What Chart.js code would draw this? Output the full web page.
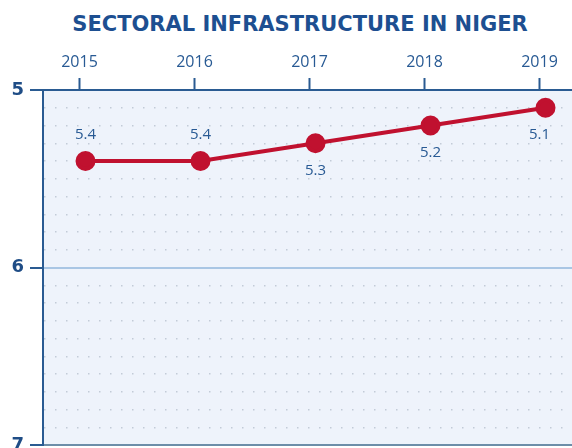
<!DOCTYPE html>
<html>
<head>
<meta charset="utf-8">
<script src="https://cdn.jsdelivr.net/npm/chart.js@4.4.0/dist/chart.umd.min.js"></script>
<style>
  html, body { margin: 0; padding: 0; background: #fff; overflow: hidden; }
  #wrap { position: relative; width: 572px; height: 448px; overflow: hidden; }
  #title {
    position: absolute; left: 0; top: 12px; width: 600px; text-align: center;
    font-family: "DejaVu Sans", sans-serif; font-weight: bold; font-size: 21px;
    color: #1d4f91;
  }
  canvas { position: absolute; left: 0; top: 0; }
</style>
</head>
<body>
<div id="wrap">
  <div id="title">SECTORAL INFRASTRUCTURE IN NIGER</div>
  <canvas id="chart" width="572" height="462"></canvas>
</div>
<script>
const years = [2015, 2016, 2017, 2018, 2019];
const values = [5.4, 5.4, 5.3, 5.2, 5.1];
const valueLabels = ["5.4", "5.4", "5.3", "5.2", "5.1"];
const labelSide = ["above", "above", "below", "below", "below"];
const yTicks = [5, 6, 7];

const darkBlue = "#2a5b92";
const textBlue = "#285a94";

function isWhole(v) {
  return Math.abs(v - Math.round(v)) < 1e-6;
}

// fond bleu clair de la zone de tracé
const plotBg = {
  id: "plotBg",
  beforeDraw(chart) {
    const { ctx, chartArea: a } = chart;
    ctx.save();
    ctx.fillStyle = "#eef3fb";
    ctx.fillRect(a.left, a.top, a.right - a.left, a.bottom - a.top);
    ctx.restore();
  },
};

// étiquettes des valeurs au-dessus / au-dessous des points
const valueText = {
  id: "valueText",
  afterDatasetsDraw(chart) {
    const { ctx } = chart;
    const meta = chart.getDatasetMeta(0);
    ctx.save();
    ctx.font = "15px 'Open Sans', sans-serif";
    ctx.fillStyle = textBlue;
    ctx.textAlign = "center";
    ctx.textBaseline = "middle";
    meta.data.forEach((pt, i) => {
      const dy = labelSide[i] === "above" ? -26 : 27;
      const dx = i === values.length - 1 ? -6 : 0;
      ctx.fillText(valueLabels[i], pt.x + dx, pt.y + dy);
    });
    ctx.restore();
  },
};

new Chart(document.getElementById("chart"), {
  type: "line",
  data: {
    datasets: [
      {
        data: values.map((v, i) => ({ x: i, y: v })),
        xAxisID: "xd",
        borderColor: "#c0112f",
        backgroundColor: "#c0112f",
        borderWidth: 4,
        pointRadius: 8,
        pointHoverRadius: 8,
        tension: 0,
      },
    ],
  },
  options: {
    responsive: false,
    animation: false,
    layout: { autoPadding: false, padding: { top: 40, left: 0, right: 0, bottom: 0 } },
    plugins: { legend: { display: false }, tooltip: { enabled: false } },
    scales: {
      x: {
        type: "linear",
        position: "top",
        min: 2014.6826,
        max: 2019.2826,
        afterBuildTicks(scale) {
          scale.ticks = years.map((y) => ({ value: y }));
        },
        afterFit(scale) {
          scale.height = 50;
        },
        ticks: {
          color: textBlue,
          padding: 6,
          font: { family: "'Open Sans', sans-serif", size: 16 },
          callback: (v) => String(v),
        },
        grid: {
          drawOnChartArea: false,
          tickLength: 12,
          tickColor: darkBlue,
          tickWidth: 2,
        },
        border: { color: darkBlue, width: 2 },
      },
      xd: {
        type: "linear",
        display: false,
        min: -0.3696,
        max: 4.2304,
      },
      y: {
        reverse: true,
        min: 5,
        max: 7,
        afterBuildTicks(scale) {
          const t = [];
          for (let k = 0; k <= 20; k++) t.push({ value: 5 + k / 10 });
          scale.ticks = t;
        },
        afterFit(scale) {
          scale.width = 43;
        },
        ticks: {
          color: "#1f4d86",
          padding: 6,
          autoSkip: false,
          font: { family: "'DejaVu Sans', sans-serif", size: 18, weight: "bold" },
          callback: (v) => (yTicks.some((t) => Math.abs(v - t) < 1e-6) ? String(Math.round(v)) : ""),
        },
        grid: {
          tickLength: 13,
          tickWidth: 2,
          tickColor: (c) => (c.tick && isWhole(c.tick.value) ? darkBlue : "rgba(0,0,0,0)"),
          color: (c) => {
            if (!c.tick) return "rgba(0,0,0,0)";
            const v = c.tick.value;
            if (Math.abs(v - 6) < 1e-6) return "#a9c6e4";
            if (Math.abs(v - 7) < 1e-6) return "#6d8ea9";
            if (Math.abs(v - 5) < 1e-6) return darkBlue;
            return "#c2cbd7";
          },
          lineWidth: (c) => (c.tick && isWhole(c.tick.value) ? 2 : 1.5),
        },
        border: {
          color: darkBlue,
          width: 2,
          dash: (c) => (c.tick && !isWhole(c.tick.value) ? [1.5, 9.5] : []),
        },
      },
    },
  },
  plugins: [plotBg, valueText],
});
</script>
</body>
</html>
